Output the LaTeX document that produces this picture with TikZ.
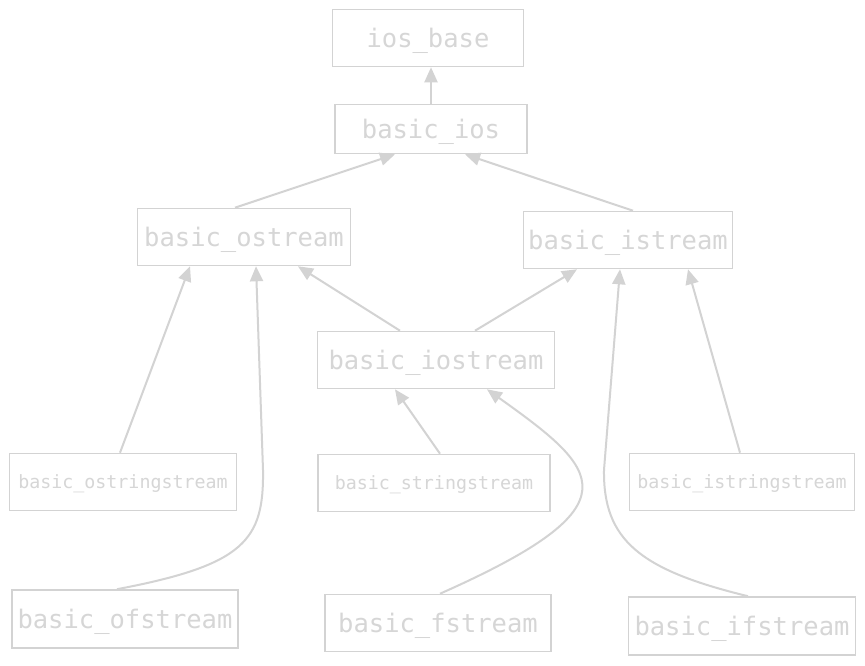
\documentclass[tikz,border=0pt]{standalone}
\usepackage{fontspec}
\setmonofont{DejaVu Sans Mono}
\usepackage{xcolor}
\usepackage{tikz}
\usetikzlibrary{arrows.meta}
\definecolor{sketchgray}{HTML}{D3D3D3}
\definecolor{sketchtext}{HTML}{D6D6D6}

\begin{document}
\begin{tikzpicture}[x=1pt,y=-1pt,
        cls/.style={shape=rectangle,draw=sketchgray,line width=1.6pt,inner sep=0pt,text depth=0pt,
                text=sketchtext,font=\ttfamily\fontsize{25.5}{30}\selectfont,minimum height=57pt},
        smallcls/.style={cls,font=\ttfamily\fontsize{18.3}{22}\selectfont},
        inherit/.style={draw=sketchgray,line width=2pt,-{Triangle[length=15pt,width=13pt]}}]
        \fill [white] (0,0) rectangle (865,665);
        \useasboundingbox (0,0) rectangle (865,665);
        \node (iosbase) [cls,minimum width=191pt] at (428,38) {ios\_base};
        \node (ios) [cls,minimum width=192pt,minimum height=49pt] at (431,129) {basic\_ios};
        \node (ostream) [cls,minimum width=213pt] at (244,237) {basic\_ostream};
        \node (istream) [cls,minimum width=209pt] at (628,240) {basic\_istream};
        \node (iostream) [cls,minimum width=237pt] at (436,360) {basic\_iostream};
        \node (osstream) [smallcls,minimum width=227pt] at (123,482) {basic\_ostringstream};
        \node (sstream) [smallcls,minimum width=232pt] at (434,483) {basic\_stringstream};
        \node (isstream) [smallcls,minimum width=225pt] at (742,482) {basic\_istringstream};
        \node (ofstream) [cls,minimum width=226pt,minimum height=58pt] at (125,619) {basic\_ofstream};
        \node (fstream) [cls,minimum width=226pt] at (438,623) {basic\_fstream};
        \node (ifstream) [cls,minimum width=227pt,minimum height=58pt] at (742,626) {basic\_ifstream};

        \draw [inherit] (ios.north) -- ([xshift=3pt]iosbase.south);
        \draw [inherit] ([xshift=-9pt]ostream.north) -- ([xshift=-36pt]ios.south);
        \draw [inherit] ([xshift=5pt]istream.north) -- ([xshift=34pt]ios.south);
        \draw [inherit] ([xshift=-36pt]iostream.north) -- ([xshift=54pt]ostream.south);
        \draw [inherit] ([xshift=39pt]iostream.north) -- ([xshift=-51pt]istream.south);
        \draw [inherit] ([xshift=-3pt]osstream.north) -- ([xshift=-54pt]ostream.south);
        \draw [inherit] ([xshift=6pt]sstream.north) -- ([xshift=-41pt]iostream.south);
        \draw [inherit] ([xshift=-2pt]isstream.north) -- ([xshift=60pt]istream.south);
        % the file streams curve round the string streams
        \draw [inherit] ([xshift=-8pt]ofstream.north) .. controls (245,565) and (264,540) .. (263,470)
                -- ([xshift=12pt]ostream.south);
        \draw [inherit] ([xshift=2pt]fstream.north) .. controls (640,505) and (600,470) .. ([xshift=51pt]iostream.south);
        \draw [inherit] ([xshift=6pt]ifstream.north) .. controls (640,570) and (603,540) .. (604,470)
                -- ([xshift=-8pt]istream.south);
\end{tikzpicture}
\end{document}
